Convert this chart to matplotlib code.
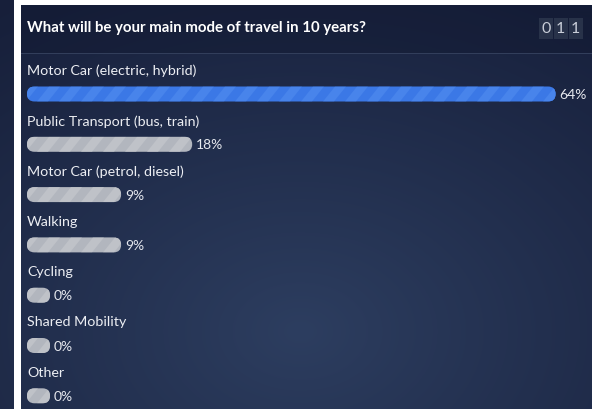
import numpy as np
import matplotlib.pyplot as plt
from matplotlib.patches import FancyBboxPatch, Rectangle, Polygon

plt.rcParams['font.family'] = ['Lato', 'DejaVu Sans']

# данные опроса
title = "What will be your main mode of travel in 10 years?"
options = [
    "Motor Car (electric, hybrid)",
    "Public Transport (bus, train)",
    "Motor Car (petrol, diesel)",
    "Walking",
    "Cycling",
    "Shared Mobility",
    "Other",
]
shares = [64, 18, 9, 9, 0, 0, 0]
counter_digits = ["0", "1", "1"]

W, H = 592, 409
PX_PER_PCT = 7.9      # пикселей на один процент
ROW_PX = 50.3         # шаг строк в пикселях
FIRST_ROW_PX = 94     # центр первой полосы
BAR_PX = 15           # высота полосы
MIN_PX = 23           # ширина пустой полосы (0%)

fig = plt.figure(figsize=(W / 100, H / 100), dpi=100)

# фон: рамка, градиент, шапка
bg = fig.add_axes([0, 0, 1, 1])
bg.set_xlim(0, W)
bg.set_ylim(H, 0)
bg.axis("off")
bg.add_patch(Rectangle((0, 0), W, H, color="white", zorder=0))

yy, xx = np.mgrid[0:H, 0:W]
dist = np.sqrt(((xx - 300) / 520) ** 2 + ((yy - 330) / 380) ** 2)
t = np.clip(1 - dist, 0, 1) ** 1.1
dark = np.array([0x18, 0x21, 0x3d]) / 255
light = np.array([0x2d, 0x3e, 0x60]) / 255
grad = dark + (light - dark) * t[..., None]
bg.imshow(grad[:, 21:], extent=(21, W, H, 5), zorder=1, aspect="auto")
bg.imshow(grad[:, 21:35] * 0.96, extent=(0, 14, H, 0), zorder=1, aspect="auto")
bg.add_patch(Rectangle((21, 5), W - 21, 48, color="#0d1328", alpha=0.3, zorder=2, lw=0))
bg.add_patch(Rectangle((21, 53), W - 21, 1.2, color="#323e5b", zorder=2, lw=0))

bg.text(27, 28, title, color="white", fontsize=10.8, fontweight="bold",
        va="center", ha="left", zorder=3)

for k, d in enumerate(counter_digits):
    x0 = 539 + k * 15
    bg.add_patch(Rectangle((x0, 18), 13.5, 21, color="#283249", zorder=3, lw=0))
    bg.text(x0 + 6.75, 29, d, color="#c9ced8", fontsize=11.5, ha="center",
            va="center", zorder=4)

# полосы
ax = fig.add_axes([27 / W, 0, (W - 27) / W, 1])
ax.set_xlim(0, (W - 27) / PX_PER_PCT)
ax.set_ylim((H - FIRST_ROW_PX) / ROW_PX, -FIRST_ROW_PX / ROW_PX)
ax.axis("off")
ax.patch.set_alpha(0)

h = BAR_PX / ROW_PX
aspect = PX_PER_PCT / ROW_PX
r = (BAR_PX / 2) / PX_PER_PCT
base = MIN_PX / PX_PER_PCT
period = 22 / PX_PER_PCT
stripe_w = 11 / PX_PER_PCT
slant = 12 / PX_PER_PCT

for i, (name, v) in enumerate(zip(options, shares)):
    lead = v == max(shares)
    face = "#3b78e6" if lead else "#b2b6be"
    stripe = "#4884eb" if lead else "#bfc2c8"
    width = base + v
    pill = FancyBboxPatch((0, i - h / 2), width, h,
                          boxstyle=f"round,pad=0,rounding_size={r}",
                          mutation_aspect=aspect, fc=face, ec="none", zorder=2)
    ax.add_patch(pill)
    x = -slant
    while x < width:
        poly = Polygon([(x, i + h / 2), (x + stripe_w, i + h / 2),
                        (x + stripe_w + slant, i - h / 2), (x + slant, i - h / 2)],
                       closed=True, fc=stripe, ec="none", zorder=3)
        ax.add_patch(poly)
        poly.set_clip_path(pill)
        x += period
    ax.text(width + 4 / PX_PER_PCT, i + 0.02, f"{v}%", color="#e6e8ee",
            fontsize=10, va="center", ha="left")
    ax.text(0, i - 23 / ROW_PX, name, color="#eceef3", fontsize=10.3,
            va="center", ha="left")

fig.savefig("out.png", dpi=100)
